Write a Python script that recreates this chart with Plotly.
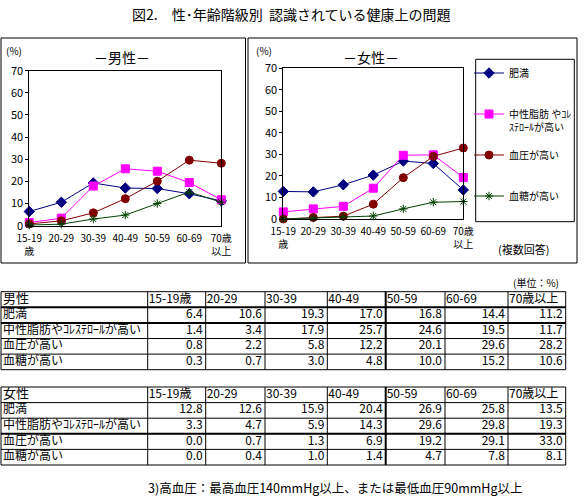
import plotly.graph_objects as go

W, H = 584, 498
FONT = "Noto Sans CJK JP, Noto Sans, sans-serif"

# ── data ─────────────────────────────────────────────────────────────────────
AGE_TABLE = ["15-19歳", "20-29", "30-39", "40-49", "50-59", "60-69", "70歳以上"]
AGE_TICKS = ["15-19<br>歳", "20-29", "30-39", "40-49", "50-59", "60-69", "70歳<br>以上"]
ITEMS = ["肥満", "中性脂肪やｺﾚｽﾃﾛｰﾙが高い", "血圧が高い", "血糖が高い"]
LEGEND_NAMES = ["肥満<br> ", "中性脂肪 やｺﾚ<br>ｽﾃﾛｰﾙが高い", "血圧が高い<br> ", "血糖が高い<br> "]

MALE_OBESITY = [6.4, 10.6, 19.3, 17.0, 16.8, 14.4, 11.2]
MALE_LIPID = [1.4, 3.4, 17.9, 25.7, 24.6, 19.5, 11.7]
MALE_BP = [0.8, 2.2, 5.8, 12.2, 20.1, 29.6, 28.2]
MALE_SUGAR = [0.3, 0.7, 3.0, 4.8, 10.0, 15.2, 10.6]

FEMALE_OBESITY = [12.8, 12.6, 15.9, 20.4, 26.9, 25.8, 13.5]
FEMALE_LIPID = [3.3, 4.7, 5.9, 14.3, 29.6, 29.8, 19.3]
FEMALE_BP = [0.0, 0.7, 1.3, 6.9, 19.2, 29.1, 33.0]
FEMALE_SUGAR = [0.0, 0.4, 1.0, 1.4, 4.7, 7.8, 8.1]

MALE = [MALE_OBESITY, MALE_LIPID, MALE_BP, MALE_SUGAR]
FEMALE = [FEMALE_OBESITY, FEMALE_LIPID, FEMALE_BP, FEMALE_SUGAR]

# ── styles ───────────────────────────────────────────────────────────────────
COLORS = ["#000080", "#FF00FF", "#800000", "#004000"]
SYMBOLS = ["diamond", "square", "circle", "asterisk-open"]
SIZES = [8, 8, 8, 7]

COL_EDGES = [1, 147.7, 205.7, 265, 327.3, 385.7, 445, 508, 565.7]
ROW_H = 15.6
TABLE_TOPS = [291.7, 387]


def px(x):
    return x / W


def py(y):
    return 1 - y / H


fig = go.Figure()

# ── line charts ──────────────────────────────────────────────────────────────
x_idx = list(range(len(AGE_TICKS)))
for ax, data, show in (("", MALE, False), ("2", FEMALE, True)):
    for i, vals in enumerate(data):
        fig.add_trace(go.Scatter(
            x=x_idx, y=vals, xaxis="x" + ax, yaxis="y" + ax,
            name=LEGEND_NAMES[i], legendgroup=str(i), showlegend=show,
            mode="lines+markers",
            line=dict(color=COLORS[i], width=1),
            marker=dict(symbol=SYMBOLS[i], size=SIZES[i], color=COLORS[i],
                        line=dict(color=COLORS[i], width=1)),
            cliponaxis=False, hoverinfo="skip",
        ))

xaxis_common = dict(
    range=[0, 6], tickvals=x_idx, ticktext=AGE_TICKS, tickangle=0,
    ticklabelstandoff=3, showgrid=False, zeroline=False,
    showline=True, mirror=True, linecolor="black", linewidth=1,
    tickfont=dict(size=10, color="black"), fixedrange=True,
)
yaxis_common = dict(
    range=[0, 70], dtick=10, showgrid=False, zeroline=False,
    showline=True, mirror=True, linecolor="black", linewidth=1,
    ticks="outside", ticklen=3, tickcolor="black",
    tickfont=dict(size=11, color="black"), fixedrange=True,
)

# ── tables (drawn on a hidden pixel axis) ────────────────────────────────────
tx, ty, tt = [], [], []      # left-aligned labels
vx, vy, vt = [], [], []      # right-aligned values
hx, hy, ht = [], [], []      # table title cells (男性 / 女性)
shapes = []
for t, (title, data) in enumerate((("男性", MALE), ("女性", FEMALE))):
    top = TABLE_TOPS[t]
    hx.append(COL_EDGES[0] + 2)
    hy.append(top + ROW_H / 2)
    ht.append(title)
    for j, lab in enumerate(AGE_TABLE):
        tx.append(COL_EDGES[j + 1] + 1)
        ty.append(top + ROW_H / 2)
        tt.append(lab)
    for r, (item, vals) in enumerate(zip(ITEMS, data)):
        yc = top + ROW_H * (r + 1.5)
        tx.append(COL_EDGES[0] + 2)
        ty.append(yc)
        tt.append(item)
        for j, v in enumerate(vals):
            vx.append(COL_EDGES[j + 2] - 3)
            vy.append(yc)
            vt.append(f"{v:.1f}")
    thick_rows = (1, 2) if t == 0 else (3,)
    for r in range(len(ITEMS) + 2):
        yl = top + ROW_H * r
        shapes.append(dict(type="line", xref="x3", yref="y3",
                           x0=COL_EDGES[0], x1=COL_EDGES[-1], y0=yl, y1=yl,
                           line=dict(color="black", width=2 if r in thick_rows else 1)))
    for c, xe in enumerate(COL_EDGES):
        shapes.append(dict(type="line", xref="x3", yref="y3",
                           x0=xe, x1=xe, y0=top, y1=top + ROW_H * (len(ITEMS) + 1),
                           line=dict(color="black", width=2 if c == 5 else 1)))

fig.add_trace(go.Scatter(x=hx, y=hy, text=ht, mode="text", textposition="middle right",
                         textfont=dict(size=13, color="black"), xaxis="x3", yaxis="y3",
                         showlegend=False, hoverinfo="skip", cliponaxis=False))
fig.add_trace(go.Scatter(x=tx, y=ty, text=tt, mode="text", textposition="middle right",
                         textfont=dict(size=12, color="black"), xaxis="x3", yaxis="y3",
                         showlegend=False, hoverinfo="skip", cliponaxis=False))
fig.add_trace(go.Scatter(x=vx, y=vy, text=vt, mode="text", textposition="middle left",
                         textfont=dict(size=12, color="black"), xaxis="x3", yaxis="y3",
                         showlegend=False, hoverinfo="skip", cliponaxis=False))

# ── frames around the chart panels and the legend ────────────────────────────
for x0, x1, y0, y1 in ((1, 245.5, 38, 263), (248, 577, 38, 263), (475.7, 574.3, 59.3, 221.7)):
    shapes.append(dict(type="rect", xref="paper", yref="paper", layer="above",
                       x0=px(x0), x1=px(x1), y0=py(y1), y1=py(y0),
                       line=dict(color="black", width=1), fillcolor="rgba(0,0,0,0)"))

annotations = [
    dict(text="図2.　性･年齢階級別  認識されている健康上の問題", x=px(291), y=py(14), font=dict(size=14)),
    dict(text="－男性－", x=px(122), y=py(57), font=dict(size=14)),
    dict(text="－女性－", x=px(371), y=py(57), font=dict(size=14)),
    dict(text="(%)", x=px(14), y=py(51), font=dict(size=10)),
    dict(text="(%)", x=px(264), y=py(50), font=dict(size=10)),
    dict(text="(複数回答)", x=px(523), y=py(249), font=dict(size=11)),
    dict(text="(単位：%)", x=px(536), y=py(282), font=dict(size=10)),
    dict(text="3)高血圧：最高血圧140mmHg以上、または最低血圧90mmHg以上", x=px(335), y=py(487), font=dict(size=12.5)),
]
for a in annotations:
    a.update(xref="paper", yref="paper", showarrow=False, xanchor="center", yanchor="middle")
    a["font"]["color"] = "black"

fig.update_layout(
    width=W, height=H, margin=dict(l=0, r=0, t=0, b=0, autoexpand=False),
    paper_bgcolor="white", plot_bgcolor="rgba(0,0,0,0)",
    font=dict(family=FONT, color="black"),
    xaxis=dict(domain=[px(29.3), px(221.3)], anchor="y", **xaxis_common),
    yaxis=dict(domain=[py(225.7), py(70.7)], anchor="x", **yaxis_common),
    xaxis2=dict(domain=[px(283.3), px(463.3)], anchor="y2", **xaxis_common),
    yaxis2=dict(domain=[py(219), py(68.3)], anchor="x2", **yaxis_common),
    xaxis3=dict(domain=[0, 1], range=[0, W], visible=False, anchor="y3", fixedrange=True),
    yaxis3=dict(domain=[0, 1], range=[H, 0], visible=False, anchor="x3", fixedrange=True),
    showlegend=True,
    legend=dict(x=px(469), y=py(60), xanchor="left", yanchor="top",
                bgcolor="rgba(255,255,255,0)", borderwidth=0,
                valign="top", font=dict(size=10, color="black"), tracegroupgap=12,
                itemclick=False, itemdoubleclick=False),
    shapes=shapes, annotations=annotations,
)

# the page body has a default 8px margin; remove it so the figure sits at (0, 0)
fig.write_html("out.html", config={"displayModeBar": False},
               post_script="document.body.style.margin='0';")
